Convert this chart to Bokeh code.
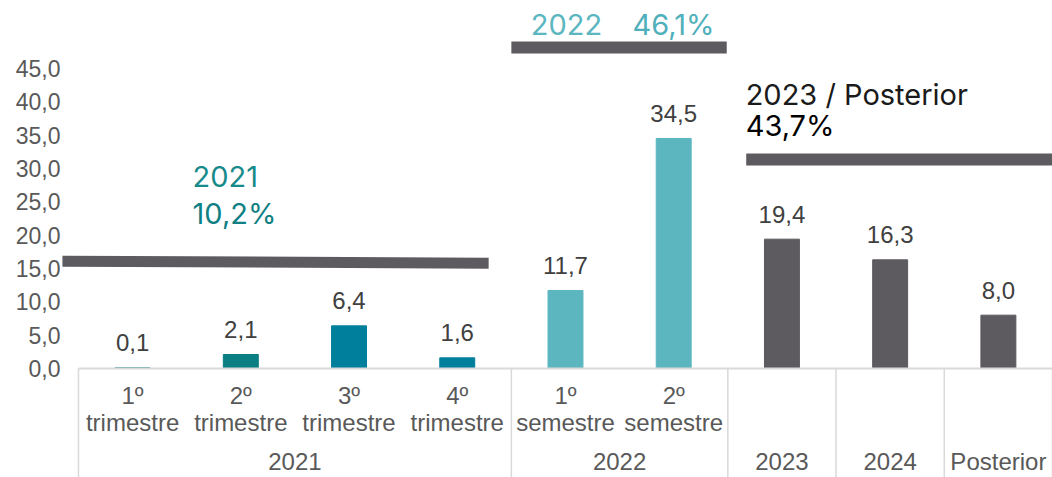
import numpy as np
from bokeh.plotting import figure
from bokeh.models import Range1d, FixedTicker, CustomJSTickFormatter, ColumnDataSource
from bokeh.core.properties import value
from bokeh.embed import file_html
from bokeh.resources import INLINE

# ---------------- data ----------------
groups = ["2021", "2021", "2021", "2021", "2022", "2022", "2023", "2024", "Posterior"]
sub_top = ["1º", "2º", "3º", "4º", "1º", "2º", "", "", ""]
sub_bottom = ["trimestre", "trimestre", "trimestre", "trimestre", "semestre", "semestre", "", "", ""]
values = [0.1, 2.1, 6.4, 1.6, 11.7, 34.5, 19.4, 16.3, 8.0]
bar_colors = ["#0B7F82", "#0B7F82", "#007F9C", "#007F9C", "#5CB6C0", "#5CB6C0",
              "#5D5A60", "#5D5A60", "#5D5A60"]
y_ticks = [0, 5, 10, 15, 20, 25, 30, 35, 40, 45]
summary_years = ["2021", "2022", "2023 / Posterior"]
summary_shares = ["10,2%", "46,1%", "43,7%"]

# ---------------- derived ----------------
n = len(values)
xs = np.arange(n) + 0.5
labels = [f"{v:.1f}".replace(".", ",") for v in values]

group_names = []
for g in groups:
    if g not in group_names:
        group_names.append(g)
group_centers = [np.mean([i for i, g in enumerate(groups) if g == name]) + 0.5 for name in group_names]
boundaries = [0] + [i for i in range(1, n) if groups[i] != groups[i - 1]] + [n]

GREY_LINE = "#D9D9D9"
LABEL_FONT = value("Liberation Sans")
TITLE_FONT = value("Inter")
Y_MIN, Y_MAX = -16.35, 55.2

p = figure(width=1052, height=477, output_backend="svg", toolbar_location=None,
           x_range=Range1d(-0.166, n), y_range=Range1d(Y_MIN, Y_MAX),
           x_axis_location=None, min_border_left=60, min_border_right=0,
           min_border_top=0, min_border_bottom=0)
p.outline_line_color = None
p.xgrid.visible = False
p.ygrid.visible = False
p.background_fill_color = "white"

ax = p.yaxis[0]
ax.ticker = FixedTicker(ticks=y_ticks)
ax.formatter = CustomJSTickFormatter(code="return tick.toFixed(1).replace('.', ',');")
ax.axis_line_color = None
ax.major_tick_line_color = None
ax.minor_tick_line_color = None
ax.major_tick_out = 0
ax.major_label_standoff = 0
ax.major_label_text_font = "Liberation Sans"
ax.major_label_text_font_size = "23px"
ax.major_label_text_color = "#595959"

# bars
src = ColumnDataSource(dict(x=xs, top=values, color=bar_colors, label=labels,
                            st=sub_top, sb=sub_bottom))
p.vbar(x="x", top="top", width=0.323, color="color", source=src)

# value labels
p.text(x="x", y="top", text="label", source=src, text_align="center",
       text_baseline="middle", y_offset=-25, text_font=LABEL_FONT,
       text_font_size="24px", text_color="#404040")

# category axis line & separators
p.segment(x0=[0], y0=[0], x1=[n], y1=[0], line_color=GREY_LINE, line_width=2)
p.segment(x0=boundaries, y0=[0] * len(boundaries), x1=boundaries, y1=[Y_MIN] * len(boundaries),
          line_color=GREY_LINE, line_width=1.5)

# category labels
p.text(x="x", y=0, text="st", source=src, text_align="center", text_baseline="middle",
       y_offset=27, text_font=LABEL_FONT, text_font_size="24px", text_color="#595959")
p.text(x="x", y=0, text="sb", source=src, text_align="center", text_baseline="middle",
       y_offset=54, text_font=LABEL_FONT, text_font_size="24px", text_color="#595959")
p.text(x=group_centers, y=[0] * len(group_centers), text=group_names, text_align="center",
       text_baseline="middle", y_offset=93, text_font=LABEL_FONT,
       text_font_size="24px", text_color="#595959")

# summary bands
BAND = "#5D5A60"
p.segment(x0=[-0.148], y0=[16.1], x1=[3.79], y1=[15.8], line_color=BAND, line_width=11, line_cap="butt")
p.segment(x0=[4.0], y0=[48.15], x1=[5.99], y1=[48.15], line_color=BAND, line_width=12, line_cap="butt")
p.segment(x0=[6.17], y0=[31.35], x1=[9.0], y1=[31.35], line_color=BAND, line_width=12, line_cap="butt")

# summary texts
TS = "29px"
p.text(x=[1.054], y=[28.8], text=[summary_years[0]], text_font=TITLE_FONT, text_font_size=TS,
       text_color="#178A8C", text_baseline="middle")
p.text(x=[1.054], y=[23.3], text=[summary_shares[0]], text_font=TITLE_FONT, text_font_size=TS,
       text_color="#0F8084", text_baseline="middle")
p.text(x=[4.18], y=[51.6], text=[summary_years[1]], text_font=TITLE_FONT, text_font_size=TS,
       text_color="#5BB6C0", text_baseline="middle")
p.text(x=[5.12], y=[51.6], text=[summary_shares[1]], text_font=TITLE_FONT, text_font_size=TS,
       text_color="#4FB0BB", text_baseline="middle")
p.text(x=[6.165], y=[41.1], text=[summary_years[2]], text_font=TITLE_FONT, text_font_size=TS,
       text_color="#1A1A1A", text_baseline="middle")
p.text(x=[6.165], y=[36.45], text=[summary_shares[2]], text_font=TITLE_FONT, text_font_size=TS,
       text_color="#000000", text_baseline="middle")

open("out.html", "w").write(file_html(p, INLINE))
